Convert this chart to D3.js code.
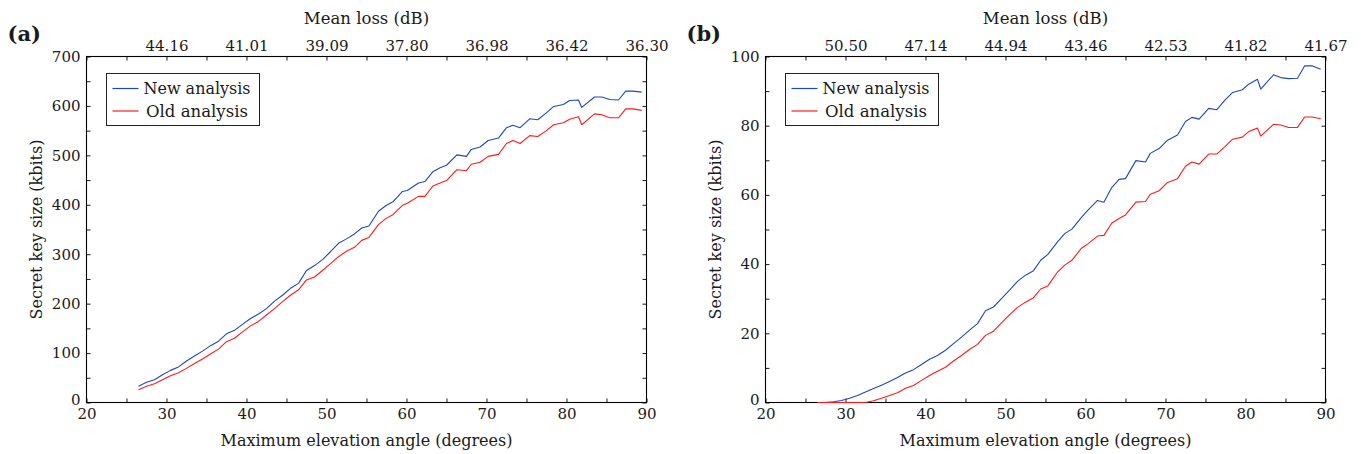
<!DOCTYPE html>
<html>
<head>
<meta charset="utf-8">
<script src="https://cdn.jsdelivr.net/npm/d3@7"></script>
<style>
  body { margin: 0; background: #fff; }
  text { font-family: "DejaVu Serif", serif; fill: #1a1a1a; }
</style>
</head>
<body>
<div id="chart"></div>
<script>
// elevation angles (degrees) shared by both panels
const angles = [26.5, 27.5, 28.5, 29.5, 30.5, 31.5, 32.5, 33.5, 34.5, 35.5, 36.5, 37.5, 38.5, 39.5,
  40.5, 41.5, 42.5, 43.5, 44.5, 45.5, 46.5, 47.5, 48.5, 49.5, 50.5, 51.5, 52.5, 53.5, 54.4, 55.3,
  56.5, 57.4, 58.3, 59.5, 60.1, 61.5, 62.3, 63.3, 64.2, 65.0, 66.3, 67.5, 68.1, 69.2, 70.2, 71.5,
  72.5, 73.3, 74.2, 75.4, 76.4, 77.4, 78.4, 79.6, 80.4, 81.5, 81.9, 83.5, 84.4, 85.4, 86.5, 87.4,
  88.3, 89.4];

// panel (a)
const newA = [33, 41, 46, 56, 65, 72, 84, 94, 104, 115, 124, 139, 146, 158,
  170, 179, 190, 205, 217, 231, 241, 267, 277, 289, 305, 322, 331, 341, 353, 357,
  387, 398, 406, 427, 429, 444, 447, 467, 475, 480, 501, 498, 512, 517, 530, 535,
  556, 561, 556, 574, 572, 585, 599, 603, 611, 612, 597, 618, 618, 613, 612, 630,
  630, 628];
const oldA = [26, 33, 38, 46, 54, 60, 69, 79, 88, 98, 108, 123, 130, 143,
  155, 164, 177, 190, 204, 217, 228, 248, 254, 267, 281, 295, 306, 314, 328, 334,
  360, 372, 380, 399, 403, 417, 417, 438, 444, 449, 471, 469, 482, 486, 498, 502,
  524, 530, 524, 540, 538, 549, 562, 566, 573, 578, 562, 584, 582, 576, 576, 594,
  594, 591];
const topLabelsA = ["44.16", "41.01", "39.09", "37.80", "36.98", "36.42", "36.30"];

// panel (b)
const newB = [0, 0, 0.2, 0.6, 1.25, 2.0, 3.0, 4.05, 5.0, 6.1, 7.2, 8.5, 9.5, 11.0,
  12.5, 13.6, 15.1, 17.0, 18.9, 20.9, 22.8, 26.5, 27.6, 30.0, 32.5, 35.0, 36.8, 38.1, 41.1, 42.8,
  46.4, 48.8, 50.1, 53.5, 55.1, 58.4, 57.9, 62.2, 64.5, 64.7, 69.9, 69.5, 72.0, 73.4, 75.7, 77.3,
  81.2, 82.4, 81.9, 85.0, 84.6, 87.3, 89.6, 90.4, 92.0, 93.4, 90.6, 94.7, 93.9, 93.6, 93.7, 97.3,
  97.3, 96.3];
const oldB = [0, 0, 0, 0, 0, 0, 0, 0.5, 1.25, 2.0, 2.8, 4.1, 4.9, 6.4,
  7.8, 9.0, 10.2, 12.0, 13.6, 15.3, 16.8, 19.4, 20.6, 23.0, 25.3, 27.5, 29.0, 30.3, 32.8, 33.7,
  37.7, 39.7, 41.1, 44.6, 45.5, 48.1, 48.3, 51.9, 53.2, 54.2, 57.9, 58.1, 60.2, 61.2, 63.5, 64.7,
  68.3, 69.5, 68.9, 71.8, 71.8, 73.9, 76.1, 76.7, 78.3, 79.3, 77.0, 80.4, 80.2, 79.5, 79.5, 82.5,
  82.5, 82.0];
const topLabelsB = ["50.50", "47.14", "44.94", "43.46", "42.53", "41.82", "41.67"];

const seriesNames = ["New analysis", "Old analysis"];
const seriesColors = ["#1c48c0", "#ff1a1a"];
const legendWidths = [107, 102];

const W = 1361, H = 454;
const svg = d3.select("#chart").append("svg")
  .attr("width", W).attr("height", H);

function drawPanel(left, letter, yMax, yMinor, yMajor, newVals, oldVals, topLabels) {
  const right = left + 560, top = 56.5, bottom = 402.5;
  const x = d3.scaleLinear().domain([20, 90]).range([left, right]);
  const y = d3.scaleLinear().domain([0, yMax]).range([bottom, top]);
  const g = svg.append("g");

  const xTicks = d3.range(20, 91, 5);
  const yTicks = d3.range(0, yMax + 0.001, yMinor);

  // bottom axis
  const bx = g.append("g").attr("transform", `translate(0,${bottom})`)
    .call(d3.axisBottom(x).tickValues(xTicks).tickSize(-4).tickSizeOuter(0).tickPadding(6)
      .tickFormat(d => d % 10 === 0 ? d : ""));
  // top axis with mean loss labels
  const tx = g.append("g").attr("transform", `translate(0,${top})`)
    .call(d3.axisTop(x).tickValues(xTicks).tickSize(-4).tickSizeOuter(0).tickPadding(6)
      .tickFormat(d => (d % 10 === 0 && d >= 30) ? topLabels[(d - 30) / 10] : ""));
  // left axis
  const ly = g.append("g").attr("transform", `translate(${left},0)`)
    .call(d3.axisLeft(y).tickValues(yTicks).tickSize(-4).tickSizeOuter(0).tickPadding(6)
      .tickFormat(d => Math.round(d) % yMajor === 0 ? d : ""));
  // right axis
  const ry = g.append("g").attr("transform", `translate(${right},0)`)
    .call(d3.axisRight(y).tickValues(yTicks).tickSize(-4).tickSizeOuter(0).tickFormat(""));

  [bx, tx, ly, ry].forEach(a => {
    a.attr("font-family", null).attr("font-size", null);
    a.select(".domain").remove();
    a.selectAll("line").attr("stroke", "#000").attr("stroke-width", 0.9);
    a.selectAll("text").style("font-size", "15px").attr("fill", "#1a1a1a");
  });
  // lift the "0" label a little so it clears the "20" below
  ly.selectAll(".tick text").filter(d => d === 0).attr("dy", "0.1em");

  // frame
  g.append("rect")
    .attr("x", left).attr("y", top)
    .attr("width", right - left).attr("height", bottom - top)
    .attr("fill", "none").attr("stroke", "#000").attr("stroke-width", 1.1);

  // lines
  const line = d3.line().x((d, i) => x(angles[i])).y(d => y(d));
  [newVals, oldVals].forEach((vals, k) => {
    g.append("path").datum(vals)
      .attr("d", line)
      .attr("fill", "none")
      .attr("stroke", seriesColors[k])
      .attr("stroke-width", 1.1)
      .attr("stroke-linejoin", "round");
  });

  // legend
  const lg = g.append("g").attr("transform", `translate(${left + 20},${top + 17})`);
  lg.append("rect").attr("width", 153).attr("height", 52)
    .attr("fill", "#fff").attr("stroke", "#222").attr("stroke-width", 1);
  seriesNames.forEach((name, k) => {
    const cy = 15 + k * 22.5;
    lg.append("line").attr("x1", 6).attr("x2", 32).attr("y1", cy).attr("y2", cy)
      .attr("stroke", seriesColors[k]).attr("stroke-width", 1.2);
    lg.append("text").attr("x", 37 + k * 2.5).attr("y", cy).attr("dy", "0.35em")
      .attr("textLength", legendWidths[k]).attr("lengthAdjust", "spacingAndGlyphs")
      .style("font-size", "16.5px").text(name);
  });

  // axis titles
  g.append("text").attr("x", (left + right) / 2).attr("y", 446)
    .attr("text-anchor", "middle").style("font-size", "16px")
    .text("Maximum elevation angle (degrees)");
  g.append("text").attr("x", (left + right) / 2).attr("y", 24)
    .attr("text-anchor", "middle").style("font-size", "16.5px")
    .text("Mean loss (dB)");
  g.append("text")
    .attr("transform", `translate(${left - 50},${(top + bottom) / 2}) rotate(-90)`)
    .attr("text-anchor", "middle").attr("dy", "0.35em").style("font-size", "16px")
    .text("Secret key size (kbits)");

  // panel letter
  g.append("text").attr("x", left - 79).attr("y", 41)
    .style("font-size", "21px").style("font-weight", "bold")
    .text(letter);
}

drawPanel(86.5, "(a)", 700, 50, 100, newA, oldA, topLabelsA);
drawPanel(765.5, "(b)", 100, 10, 20, newB, oldB, topLabelsB);
</script>
</body>
</html>
